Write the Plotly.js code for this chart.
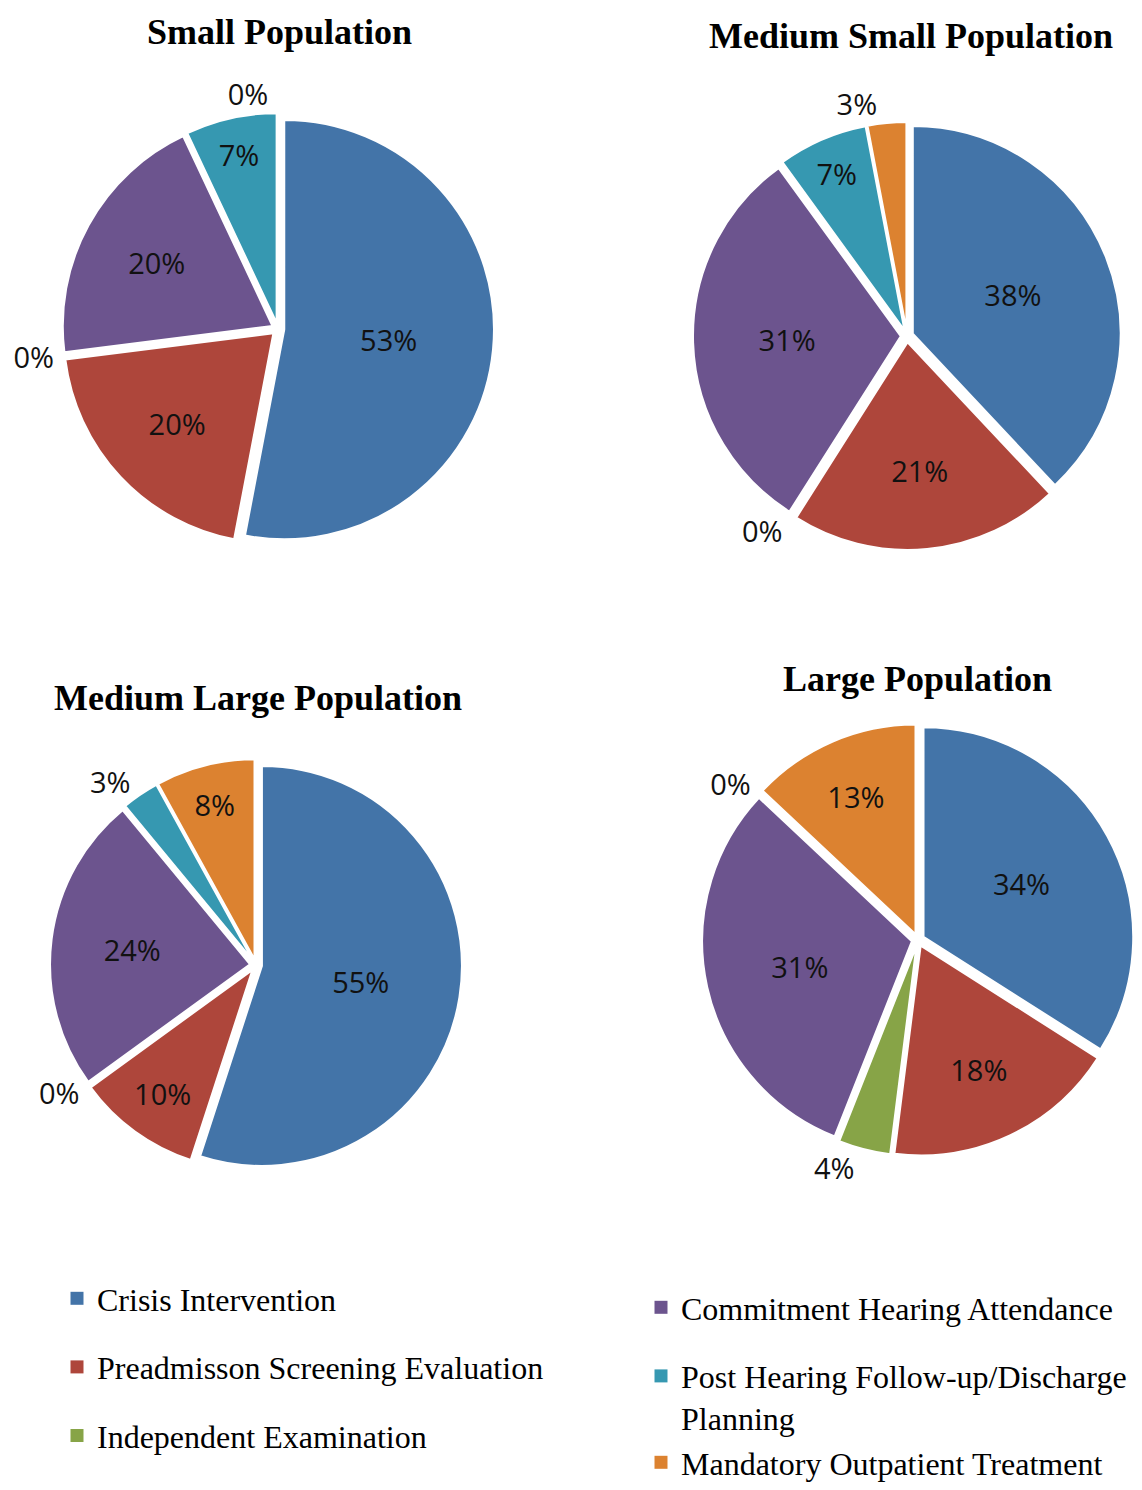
<!DOCTYPE html>
<html>
<head>
<meta charset="utf-8">
<script src="https://cdn.plot.ly/plotly-3.0.1.min.js"></script>
<style>html,body{margin:0;padding:0;background:#fff;overflow:hidden;}#chart{width:1142px;height:1490px;}</style>
</head>
<body>
<div id="chart"></div>
<script>
// ---- data ----
const categories = [
  "Crisis Intervention",
  "Preadmisson Screening Evaluation",
  "Independent Examination",
  "Commitment Hearing Attendance",
  "Post Hearing Follow-up/Discharge Planning",
  "Mandatory Outpatient Treatment"
];
const legendLabels = [
  "Crisis Intervention",
  "Preadmisson Screening Evaluation",
  "Independent Examination",
  "Commitment Hearing Attendance",
  "Post Hearing Follow-up/Discharge<br>Planning",
  "Mandatory Outpatient Treatment"
];
const panelTitles = ["Small Population", "Medium Small Population", "Medium Large Population", "Large Population"];
const smallPop = [53, 20, 0, 20, 7, 0];
const mediumSmallPop = [38, 21, 0, 31, 7, 3];
const mediumLargePop = [55, 10, 0, 24, 3, 8];
const largePop = [34, 18, 4, 31, 0, 13];

// ---- style ----
const palette = ["#4374a8", "#ae463b", "#87a447", "#6c548e", "#3698b1", "#dc8230"];
const W = 1142, H = 1490;
// pie centres (px) and box half-size (px)
const pies = [
  {vals: smallPop,       cx: 278, cy: 329, half: 216, tx: 279, ty: 32},
  {vals: mediumSmallPop, cx: 907, cy: 336, half: 214, tx: 911, ty: 36},
  {vals: mediumLargePop, cx: 256, cy: 965, half: 206, tx: 258, ty: 698},
  {vals: largePop,       cx: 918, cy: 940, half: 216, tx: 917, ty: 679}
];

const labelFont = {family: 'Open Sans', size: 29, color: '#111111'};
const traces = [];
pies.forEach((p, k) => {
  traces.push({
    type: 'pie',
    labels: categories,
    values: p.vals,
    sort: false,
    direction: 'clockwise',
    rotation: 0,
    pull: 0.03,
    marker: {colors: palette, line: {color: '#ffffff', width: 2}},
    textinfo: 'percent',
    textposition: p.vals.map(v => v < 5 ? 'outside' : 'inside'),
    insidetextorientation: 'horizontal',
    textfont: labelFont,
    outsidetextfont: labelFont,
    insidetextfont: labelFont,
    showlegend: false,
    hoverinfo: 'label+percent',
    domain: {
      x: [(p.cx - p.half) / W, (p.cx + p.half) / W],
      y: [1 - (p.cy + p.half) / H, 1 - (p.cy - p.half) / H]
    }
  });
});

// legend entries
const legendOf = ['legend', 'legend', 'legend', 'legend2', 'legend2', 'legend3'];
categories.forEach((c, i) => {
  traces.push({
    type: 'scatter', mode: 'markers',
    x: [null], y: [null],
    name: legendLabels[i],
    marker: {symbol: 'square', size: 13, color: palette[i]},
    legend: legendOf[i],
    legendgroup: 'g' + i,
    showlegend: true,
    hoverinfo: 'skip'
  });
});

const annotations = pies.map((p, k) => ({
  text: panelTitles[k],
  xref: 'paper', yref: 'paper',
  x: p.tx / W, y: 1 - p.ty / H,
  xanchor: 'center', yanchor: 'middle',
  showarrow: false,
  font: {family: 'Liberation Serif', size: 36, color: '#000000', weight: 'bold'}
}));

const legendFont = {family: 'Liberation Serif', size: 32, color: '#000000'};
const legendBase = {xanchor: 'left', yanchor: 'top', font: legendFont, valign: 'top',
                    tracegroupgap: 24, bgcolor: 'rgba(0,0,0,0)', borderwidth: 0};
const layout = {
  width: W, height: H,
  margin: {l: 0, r: 0, t: 0, b: 0, autoexpand: false},
  paper_bgcolor: '#ffffff',
  plot_bgcolor: 'rgba(0,0,0,0)',
  xaxis: {visible: false}, yaxis: {visible: false},
  annotations: annotations,
  showlegend: true,
  legend:  Object.assign({}, legendBase, {x: 57 / W, y: 1 - 1271 / H}),
  legend2: Object.assign({}, legendBase, {x: 641 / W, y: 1 - 1280 / H}),
  legend3: Object.assign({}, legendBase, {x: 641 / W, y: 0, yanchor: 'bottom'})
};

Plotly.newPlot('chart', traces, layout, {displayModeBar: false, staticPlot: true});
</script>
</body>
</html>
